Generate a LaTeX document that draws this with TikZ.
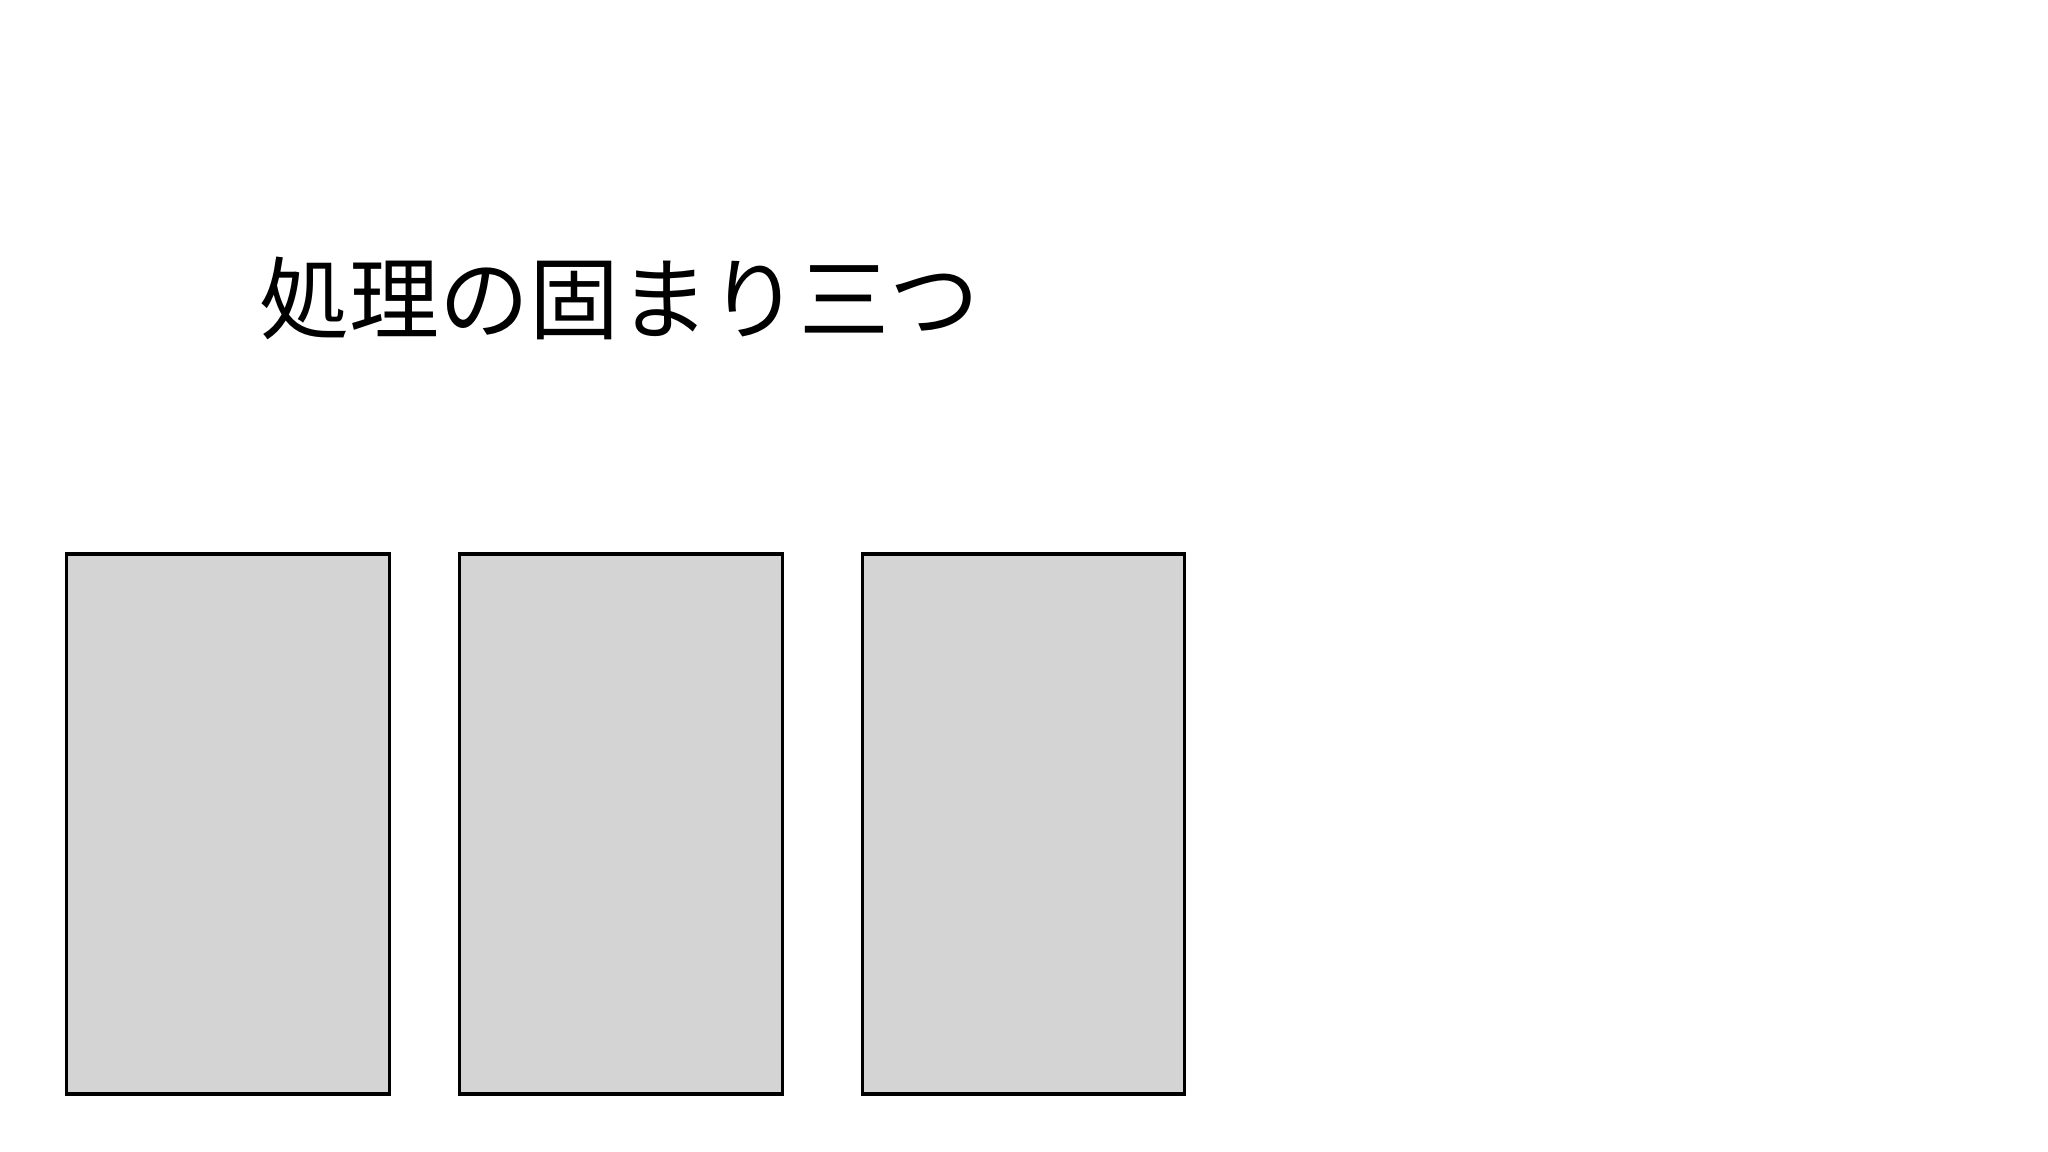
\documentclass[tikz,border=0pt]{standalone}
\usepackage{fontspec}
\newfontfamily\jpfont{Noto Sans CJK JP}
\usetikzlibrary{positioning}

\tikzset{
  blockbox/.style={draw=black, fill=black!17, line width=0.9pt, minimum width=3.226cm, minimum height=5.40cm, inner sep=0pt, outer sep=0pt},
  titletext/.style={font=\jpfont\fontsize{25.6pt}{30pt}\selectfont, inner sep=0pt, anchor=west}
}

\begin{document}
\begin{tikzpicture}
\useasboundingbox (0,0) rectangle (20.48,11.52);

% title
\node[titletext] (title) at (2.59,8.54) {処理の固まり三つ};

% three blocks
\node[blockbox, anchor=south west] (blockA) at (0.666,0.58) {};
\node[blockbox, right=0.706cm of blockA] (blockB) {};
\node[blockbox, right=0.797cm of blockB] (blockC) {};
\end{tikzpicture}
\end{document}
